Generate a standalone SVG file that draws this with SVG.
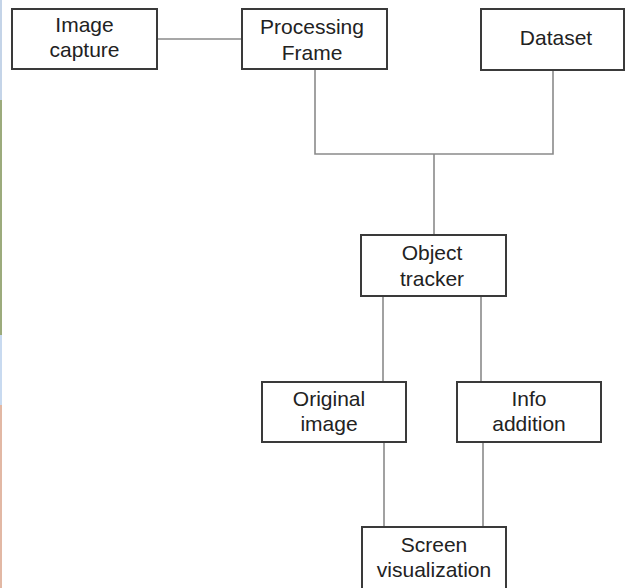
<svg xmlns="http://www.w3.org/2000/svg" width="625" height="588" viewBox="0 0 625 588">
<style>
.box{fill:#fff;stroke:#3a3a3a;stroke-width:2}
.t{font-family:"Liberation Sans",Arial,sans-serif;font-size:21px;fill:#222;text-anchor:middle}
.c{fill:none;stroke:#8a8a8a;stroke-width:1.6}
</style>
<rect width="625" height="588" fill="#fff"/>
<g id="edge-strip">
<rect x="0" y="0" width="2" height="100" fill="#c4d4e8"/>
<rect x="0" y="100" width="2" height="235" fill="#9cab7c"/>
<rect x="0" y="335" width="2" height="70" fill="#c8daf0"/>
<rect x="0" y="405" width="2" height="183" fill="#e2b8a4"/>
</g>
<g id="connectors">
<path class="c" d="M157 39H242" stroke="#b0b0b0"/>
<path class="c" d="M315 69V154H553V70"/>
<path class="c" d="M434 154V235"/>
<path class="c" d="M383 296V382"/>
<path class="c" d="M481 296V382"/>
<path class="c" d="M384 442V527"/>
<path class="c" d="M483 442V527"/>
</g>
<g id="image-capture">
<rect class="box" x="12" y="9" width="145" height="60"/>
<text class="t" x="84.5" y="32">Image</text>
<text class="t" x="84.5" y="57">capture</text>
</g>
<g id="processing-frame">
<rect class="box" x="242" y="9" width="145" height="60"/>
<text class="t" x="312" y="34">Processing</text>
<text class="t" x="312" y="60">Frame</text>
</g>
<g id="dataset">
<rect class="box" x="481" y="9" width="143" height="61"/>
<text class="t" x="556" y="45">Dataset</text>
</g>
<g id="object-tracker">
<rect class="box" x="361" y="235" width="145" height="61"/>
<text class="t" x="432" y="260">Object</text>
<text class="t" x="432" y="286">tracker</text>
</g>
<g id="original-image">
<rect class="box" x="262" y="382" width="144" height="60"/>
<text class="t" x="329" y="406">Original</text>
<text class="t" x="329" y="431">image</text>
</g>
<g id="info-addition">
<rect class="box" x="457" y="382" width="144" height="60"/>
<text class="t" x="529" y="406">Info</text>
<text class="t" x="529" y="431">addition</text>
</g>
<g id="screen-visualization">
<rect class="box" x="362" y="527" width="144" height="64"/>
<text class="t" x="434" y="552">Screen</text>
<text class="t" x="434" y="577">visualization</text>
</g>
</svg>
